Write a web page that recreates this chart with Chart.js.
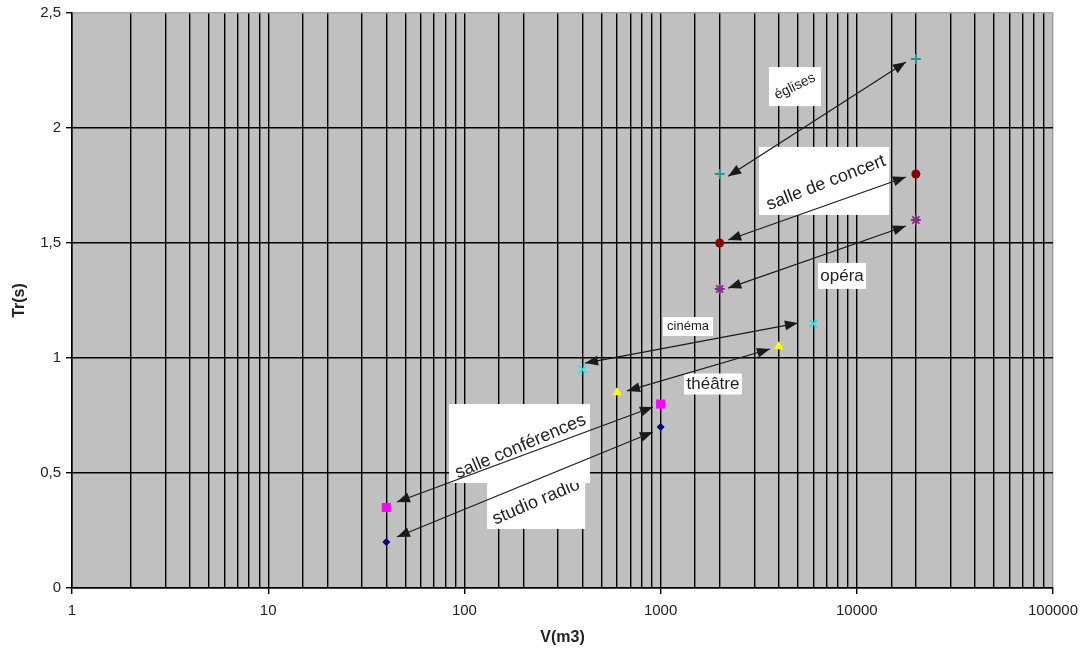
<!DOCTYPE html>
<html>
<head>
<meta charset="utf-8">
<script src="https://cdn.jsdelivr.net/npm/chart.js@4"></script>
<style>
  body { margin: 0; background: #fff; }
  #wrap { width: 1083px; height: 657px; }
</style>
</head>
<body>
<div id="wrap"><canvas id="chart"></canvas></div>
<script>
// reverberation time vs volume, per room type (low / high end of range)
const roomTypes = ["églises", "salle de concert", "opéra", "cinéma", "théâtre", "salle conférences", "studio radio"];
const volumeLow = [2000, 2000, 2000, 400, 600, 40, 40];
const volumeHigh = [20000, 20000, 20000, 6000, 4000, 1000, 1000];
const trLow = [1.8, 1.5, 1.3, 0.95, 0.85, 0.35, 0.2];
const trHigh = [2.3, 1.8, 1.6, 1.15, 1.05, 0.8, 0.7];

// arrow ends (data units), one arrow per room type
const arrowLowX = [2210, 2210, 2210, 412, 674, 45.3, 45.3];
const arrowLowY = [1.79, 1.513, 1.304, 0.978, 0.857, 0.374, 0.222];
const arrowHighX = [17800, 17800, 17800, 5010, 3610, 914, 914];
const arrowHighY = [2.287, 1.787, 1.574, 1.152, 1.039, 0.787, 0.678];

// label anchor (data units)
const labelX = [4840, 6810, 8410, 1380, 1849, 191, 232];
const labelY = [2.18, 1.77, 1.357, 1.137, 0.887, 0.628, 0.357];

const xTickLabels = ["1", "10", "100", "1000", "10000", "100000"];
const yTickLabels = ["0", "0,5", "1", "1,5", "2", "2,5"];

const FONT = "'Liberation Sans', Arial, sans-serif";

// marker look per room type
const markers = [
  { style: "cross", color: "#1a9a9a", r: 5, fill: false },
  { style: "circle", color: "#8b0000", r: 4.5, fill: true },
  { style: "star", color: "#8a2a8a", r: 5, fill: false },
  { style: "crossRot", color: "#22e4ee", r: 5.5, fill: false },
  { style: "triangle", color: "#ffff00", r: 5.5, fill: true },
  { style: "rect", color: "#ff00ff", r: 6.4, fill: true },
  { style: "rectRot", color: "#000080", r: 4, fill: true },
];

// white text boxes (pixel size), text rotation and font size
const labelBoxes = [
  { w: 52, h: 39, rot: -26, size: 14, dx: 0, dy: 0 },
  { w: 130, h: 68, rot: -21, size: 18, dx: 2, dy: 2 },
  { w: 48, h: 26, rot: 0, size: 17, dx: 0, dy: 0 },
  { w: 50, h: 19, rot: 0, size: 13, dx: 0, dy: 0 },
  { w: 58, h: 21, rot: 0, size: 17, dx: 0, dy: 0 },
  { w: 141, h: 79, rot: -23, size: 18, dx: 1, dy: 3 },
  { w: 98, h: 46, rot: -23, size: 18, dx: 0, dy: -4 },
];
// draw studio radio box before salle conférences so it sits underneath
const labelOrder = [0, 1, 2, 3, 4, 6, 5];

const isDecade = (v) => Math.abs(Math.log10(v) - Math.round(Math.log10(v))) < 1e-9;

const plotBackground = {
  id: "plotBackground",
  beforeDraw(chart) {
    const { ctx, chartArea } = chart;
    ctx.save();
    ctx.fillStyle = "#c0c0c0";
    ctx.fillRect(chartArea.left, chartArea.top, chartArea.right - chartArea.left, chartArea.bottom - chartArea.top);
    ctx.restore();
  },
};

const drawArrowHead = (ctx, x0, y0, x1, y1) => {
  const a = Math.atan2(y1 - y0, x1 - x0);
  const len = 13, half = 5;
  ctx.beginPath();
  ctx.moveTo(x1, y1);
  ctx.lineTo(x1 - len * Math.cos(a) + half * Math.sin(a), y1 - len * Math.sin(a) - half * Math.cos(a));
  ctx.lineTo(x1 - len * Math.cos(a) - half * Math.sin(a), y1 - len * Math.sin(a) + half * Math.cos(a));
  ctx.closePath();
  ctx.fill();
};

const annotations = {
  id: "annotations",
  afterDatasetsDraw(chart) {
    const { ctx } = chart;
    const xs = chart.scales.x, ys = chart.scales.y;
    ctx.save();

    // labels in white boxes
    labelOrder.forEach((i) => {
      const b = labelBoxes[i];
      const px = xs.getPixelForValue(labelX[i]);
      const py = ys.getPixelForValue(labelY[i]);
      ctx.fillStyle = "#fff";
      ctx.fillRect(px - b.w / 2, py - b.h / 2, b.w, b.h);
      ctx.save();
      ctx.translate(px + b.dx, py + b.dy);
      ctx.rotate((b.rot * Math.PI) / 180);
      ctx.fillStyle = "#222";
      ctx.font = `${b.size}px ${FONT}`;
      ctx.textAlign = "center";
      ctx.textBaseline = "middle";
      ctx.fillText(roomTypes[i], 0, 0);
      ctx.restore();
    });

    // double headed arrows
    ctx.strokeStyle = "#1a1a1a";
    ctx.fillStyle = "#1a1a1a";
    ctx.lineWidth = 1.2;
    roomTypes.forEach((_, i) => {
      const x0 = xs.getPixelForValue(arrowLowX[i]);
      const y0 = ys.getPixelForValue(arrowLowY[i]);
      const x1 = xs.getPixelForValue(arrowHighX[i]);
      const y1 = ys.getPixelForValue(arrowHighY[i]);
      ctx.beginPath();
      ctx.moveTo(x0, y0);
      ctx.lineTo(x1, y1);
      ctx.stroke();
      drawArrowHead(ctx, x0, y0, x1, y1);
      drawArrowHead(ctx, x1, y1, x0, y0);
    });
    ctx.restore();
  },
};

const datasets = roomTypes.map((name, i) => ({
  label: name,
  data: [
    { x: volumeLow[i], y: trLow[i] },
    { x: volumeHigh[i], y: trHigh[i] },
  ],
  pointStyle: markers[i].style,
  pointRadius: markers[i].r,
  borderColor: markers[i].color,
  backgroundColor: markers[i].fill ? markers[i].color : "transparent",
  borderWidth: markers[i].fill ? 0 : 1.8,
}));

new Chart(document.getElementById("chart"), {
  type: "scatter",
  data: { datasets },
  options: {
    responsive: true,
    maintainAspectRatio: false,
    animation: false,
    layout: { padding: { top: 13, right: 30, left: 0, bottom: 0 } },
    plugins: {
      legend: { display: false },
      tooltip: { enabled: false },
    },
    scales: {
      x: {
        type: "logarithmic",
        min: 1,
        max: 100000,
        afterFit: (scale) => {
          scale.height = 69;
          scale.paddingLeft = 0;
          scale.paddingRight = 0;
        },
        border: { display: true, color: "#000", width: 1.5 },
        grid: {
          color: (c) => (c.tick && c.tick.value === 100000 ? "#999" : "#000"),
          lineWidth: 1.4,
          tickColor: (c) => (c.tick && isDecade(c.tick.value) ? "#000" : "transparent"),
          tickLength: 6,
        },
        ticks: {
          autoSkip: false,
          maxRotation: 0,
          padding: 8,
          color: "#222",
          font: { family: FONT, size: 15 },
          callback: (v) => (isDecade(v) ? xTickLabels[Math.round(Math.log10(v))] : ""),
        },
        title: {
          display: true,
          text: "V(m3)",
          color: "#222",
          font: { family: FONT, size: 16, weight: "bold" },
          padding: { top: 0, bottom: 10 },
        },
      },
      y: {
        min: 0,
        max: 2.5,
        afterFit: (scale) => {
          scale.width = 72;
          scale.paddingTop = 0;
          scale.paddingBottom = 0;
        },
        border: { display: true, color: "#000", width: 1.5 },
        grid: {
          color: (c) => (c.tick && c.tick.value === 2.5 ? "#aaa" : "#000"),
          lineWidth: 1.4,
          tickColor: "#000",
          tickLength: 6,
        },
        ticks: {
          stepSize: 0.5,
          padding: 5,
          color: "#222",
          font: { family: FONT, size: 15 },
          callback: (v, idx) => yTickLabels[idx],
        },
        title: {
          display: true,
          text: "Tr(s)",
          color: "#222",
          font: { family: FONT, size: 16, weight: "bold" },
          padding: { top: 10, bottom: 0 },
        },
      },
    },
  },
  plugins: [plotBackground, annotations],
});
</script>
</body>
</html>
